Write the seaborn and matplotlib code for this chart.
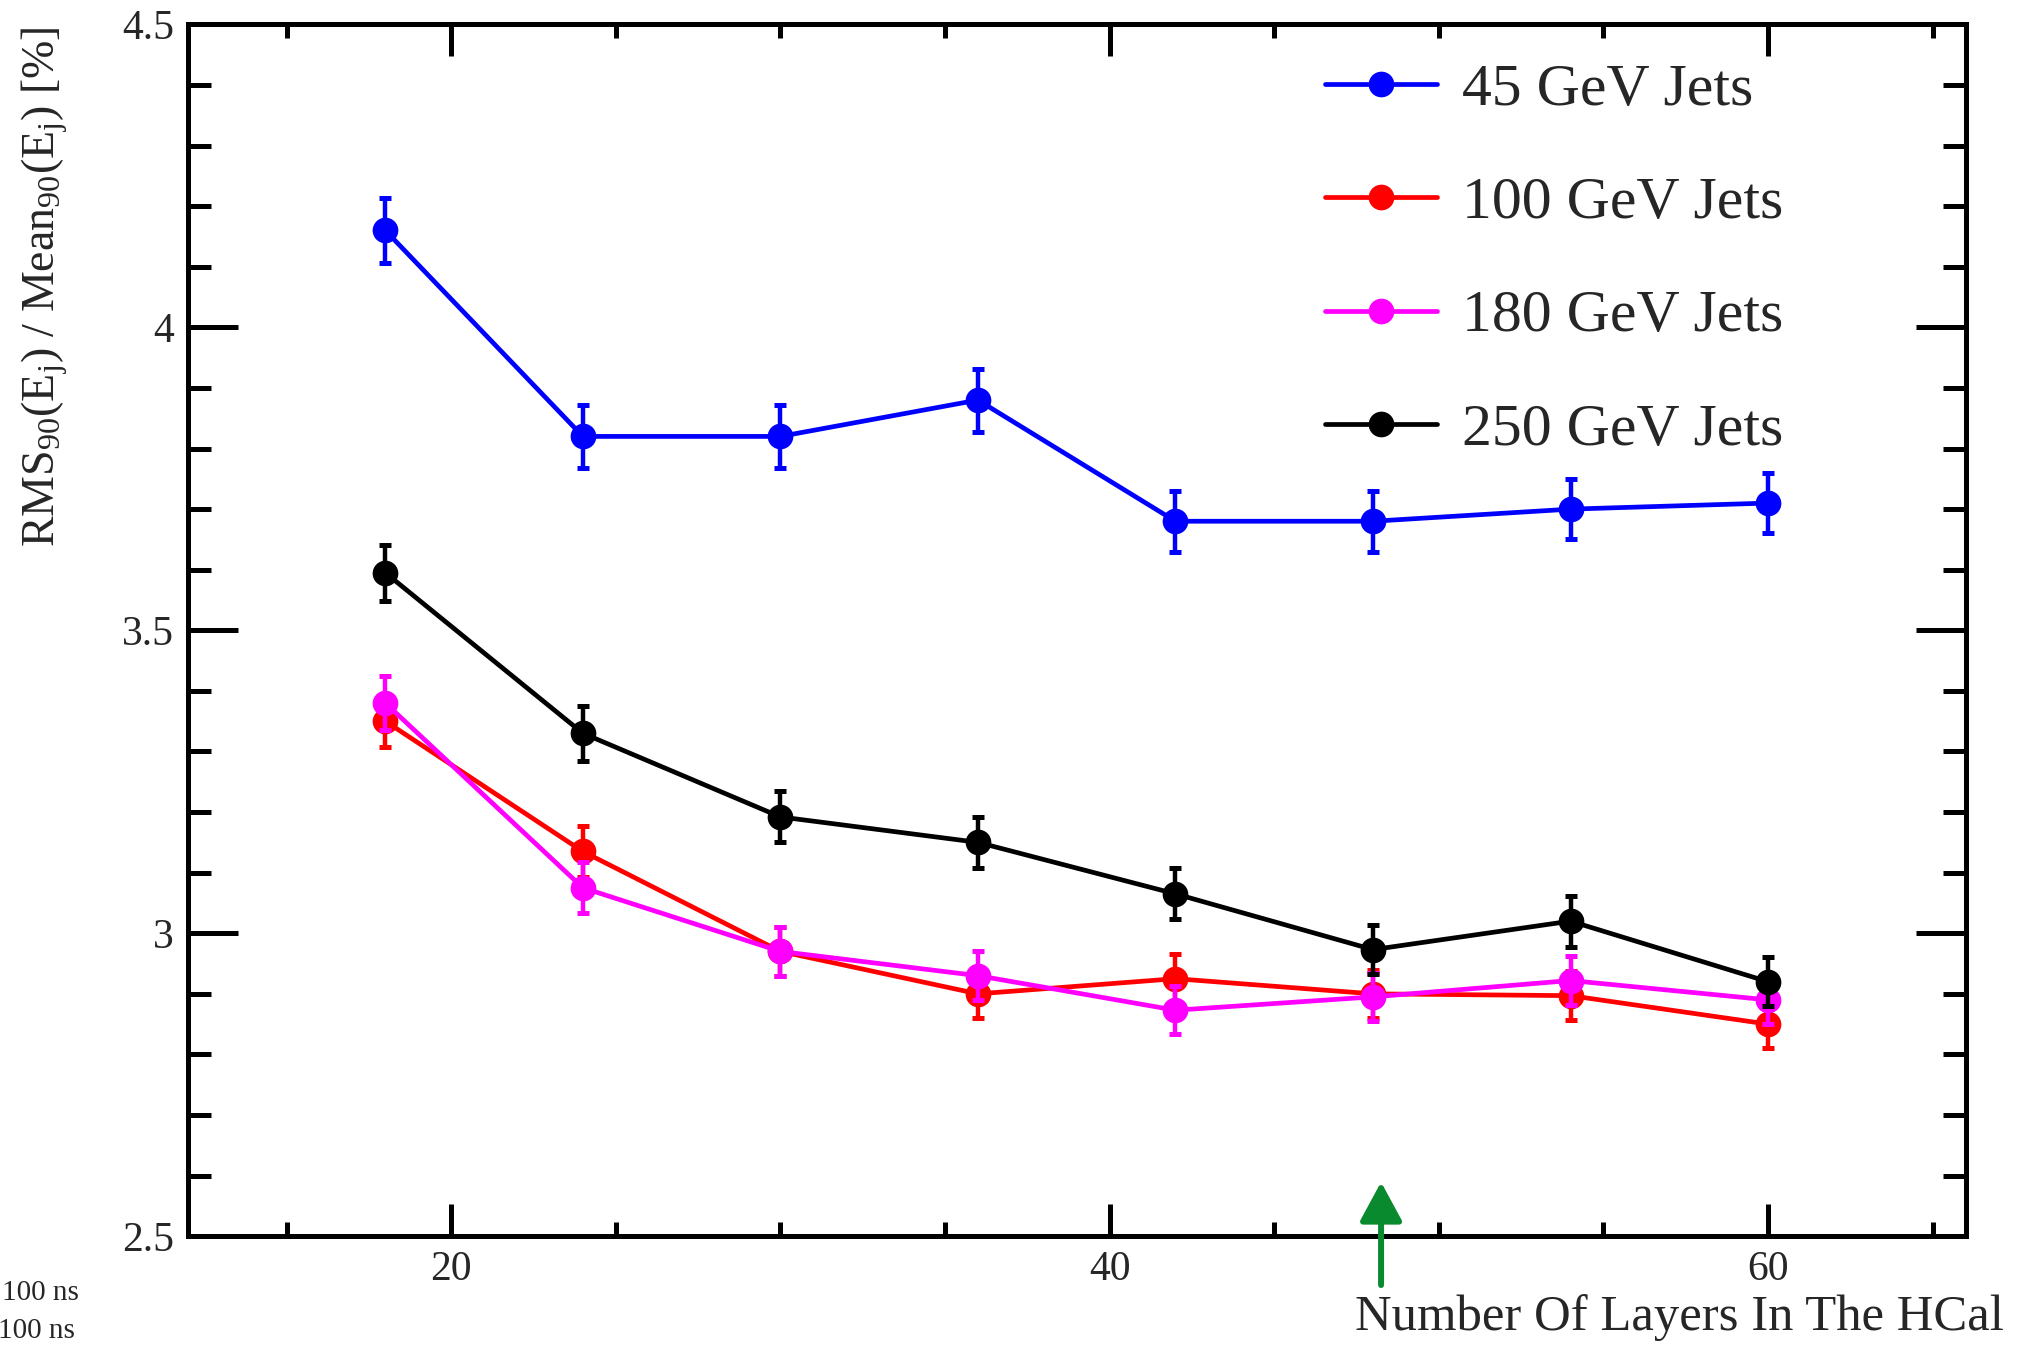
import numpy as np
import pandas as pd
import matplotlib
matplotlib.use("Agg")
import matplotlib.pyplot as plt
from matplotlib.ticker import MultipleLocator, FuncFormatter
import seaborn as sns

# ---------------- data ----------------
layers = [18, 24, 30, 36, 42, 48, 54, 60]
series_names = ["45 GeV Jets", "100 GeV Jets", "180 GeV Jets", "250 GeV Jets"]
res_45 = [4.16, 3.82, 3.82, 3.88, 3.68, 3.68, 3.70, 3.71]
err_45 = [0.053, 0.052, 0.052, 0.052, 0.050, 0.050, 0.050, 0.050]
res_100 = [3.35, 3.135, 2.97, 2.90, 2.925, 2.90, 2.897, 2.85]
err_100 = [0.042, 0.042, 0.040, 0.040, 0.040, 0.040, 0.040, 0.040]
res_180 = [3.38, 3.075, 2.97, 2.93, 2.873, 2.895, 2.922, 2.89]
err_180 = [0.045, 0.042, 0.040, 0.040, 0.040, 0.040, 0.040, 0.040]
res_250 = [3.595, 3.33, 3.192, 3.15, 3.065, 2.973, 3.02, 2.92]
err_250 = [0.046, 0.045, 0.042, 0.042, 0.042, 0.040, 0.042, 0.040]
colors = ["#0000ff", "#ff0000", "#ff00ff", "#000000"]

values = [res_45, res_100, res_180, res_250]
errors = [err_45, err_100, err_180, err_250]

df = pd.DataFrame({
    "layers": np.tile(layers, len(series_names)),
    "res": np.concatenate(values),
    "err": np.concatenate(errors),
    "series": np.repeat(series_names, len(layers)),
})

# ---------------- style ----------------
sns.set_style("ticks")
plt.rcParams["font.family"] = ["Liberation Serif", "DejaVu Serif"]
plt.rcParams["mathtext.fontset"] = "custom"
plt.rcParams["mathtext.rm"] = "Liberation Serif"
plt.rcParams["mathtext.it"] = "Liberation Serif"
plt.rcParams["mathtext.default"] = "regular"

W, H = 2017, 1345
fig = plt.figure(figsize=(W / 100, H / 100), dpi=100)
L, R, T, B = 187.8, 1965.6, 24.4, 1236.2
ax = fig.add_axes([L / W, 1 - B / H, (R - L) / W, (B - T) / H])

for i, name in enumerate(series_names):
    sub = df[df["series"] == name]
    ax.errorbar(sub["layers"], sub["res"], yerr=sub["err"], fmt="none",
                ecolor=colors[i], elinewidth=3.2, capsize=4.5, capthick=3.6,
                zorder=2 + 2 * i)
    sns.lineplot(data=sub, x="layers", y="res", ax=ax, color=colors[i],
                 marker="o", markersize=18.5, markeredgewidth=0,
                 linewidth=3.4, label=name, zorder=3 + 2 * i, errorbar=None)

ax.set_xlim(12, 66)
ax.set_ylim(2.5, 4.5)
ax.xaxis.set_major_locator(MultipleLocator(20))
ax.xaxis.set_minor_locator(MultipleLocator(5))
ax.yaxis.set_major_locator(MultipleLocator(0.5))
ax.yaxis.set_minor_locator(MultipleLocator(0.1))
ax.yaxis.set_major_formatter(FuncFormatter(lambda v, p: "%g" % v))
ax.xaxis.set_major_formatter(FuncFormatter(lambda v, p: "%g" % v))

for sp in ax.spines.values():
    sp.set_linewidth(3.6)
    sp.set_color("black")

ax.tick_params(axis="both", which="both", direction="in", top=True, right=True,
               width=3.6, color="black", labelsize=30)
ax.tick_params(axis="y", which="major", length=36, pad=10)
ax.tick_params(axis="y", which="minor", length=16.5)
ax.tick_params(axis="x", which="major", length=23, pad=10)
ax.tick_params(axis="x", which="minor", length=10)

ax.set_xlabel("")
ax.set_ylabel("")

fig.text(45 / W, 1 - 26 / H,
         r"RMS$_{90}$(E$_{j}$) / Mean$_{90}$(E$_{j}$) [%]",
         rotation=90, ha="center", va="top", fontsize=33)
fig.text(2004 / W, 1 - 1318 / H, "Number Of Layers In The HCal",
         ha="right", va="center", fontsize=36.5)
fig.text(79 / W, 1 - 1293 / H, "100 ns", ha="right", va="center", fontsize=21)
fig.text(75 / W, 1 - 1331 / H, "100 ns", ha="right", va="center", fontsize=21)

# green arrow
ax.annotate("", xy=(0.6712, 0.0447), xycoords="axes fraction",
            xytext=(0.6712, -0.0403), textcoords="axes fraction",
            arrowprops=dict(arrowstyle="-|>,head_length=1.2,head_width=0.65",
                            mutation_scale=20, color="#0a8a2e", lw=4.3,
                            shrinkA=0, shrinkB=0),
            annotation_clip=False)

leg = ax.legend(loc="upper left", bbox_to_anchor=(1325 / W, 1 - 63 / H),
                bbox_transform=fig.transFigure, frameon=False, fontsize=43,
                handlelength=1.88, handletextpad=0.42, labelspacing=0.98,
                borderpad=0, borderaxespad=0)

fig.savefig("out.png", dpi=100)
